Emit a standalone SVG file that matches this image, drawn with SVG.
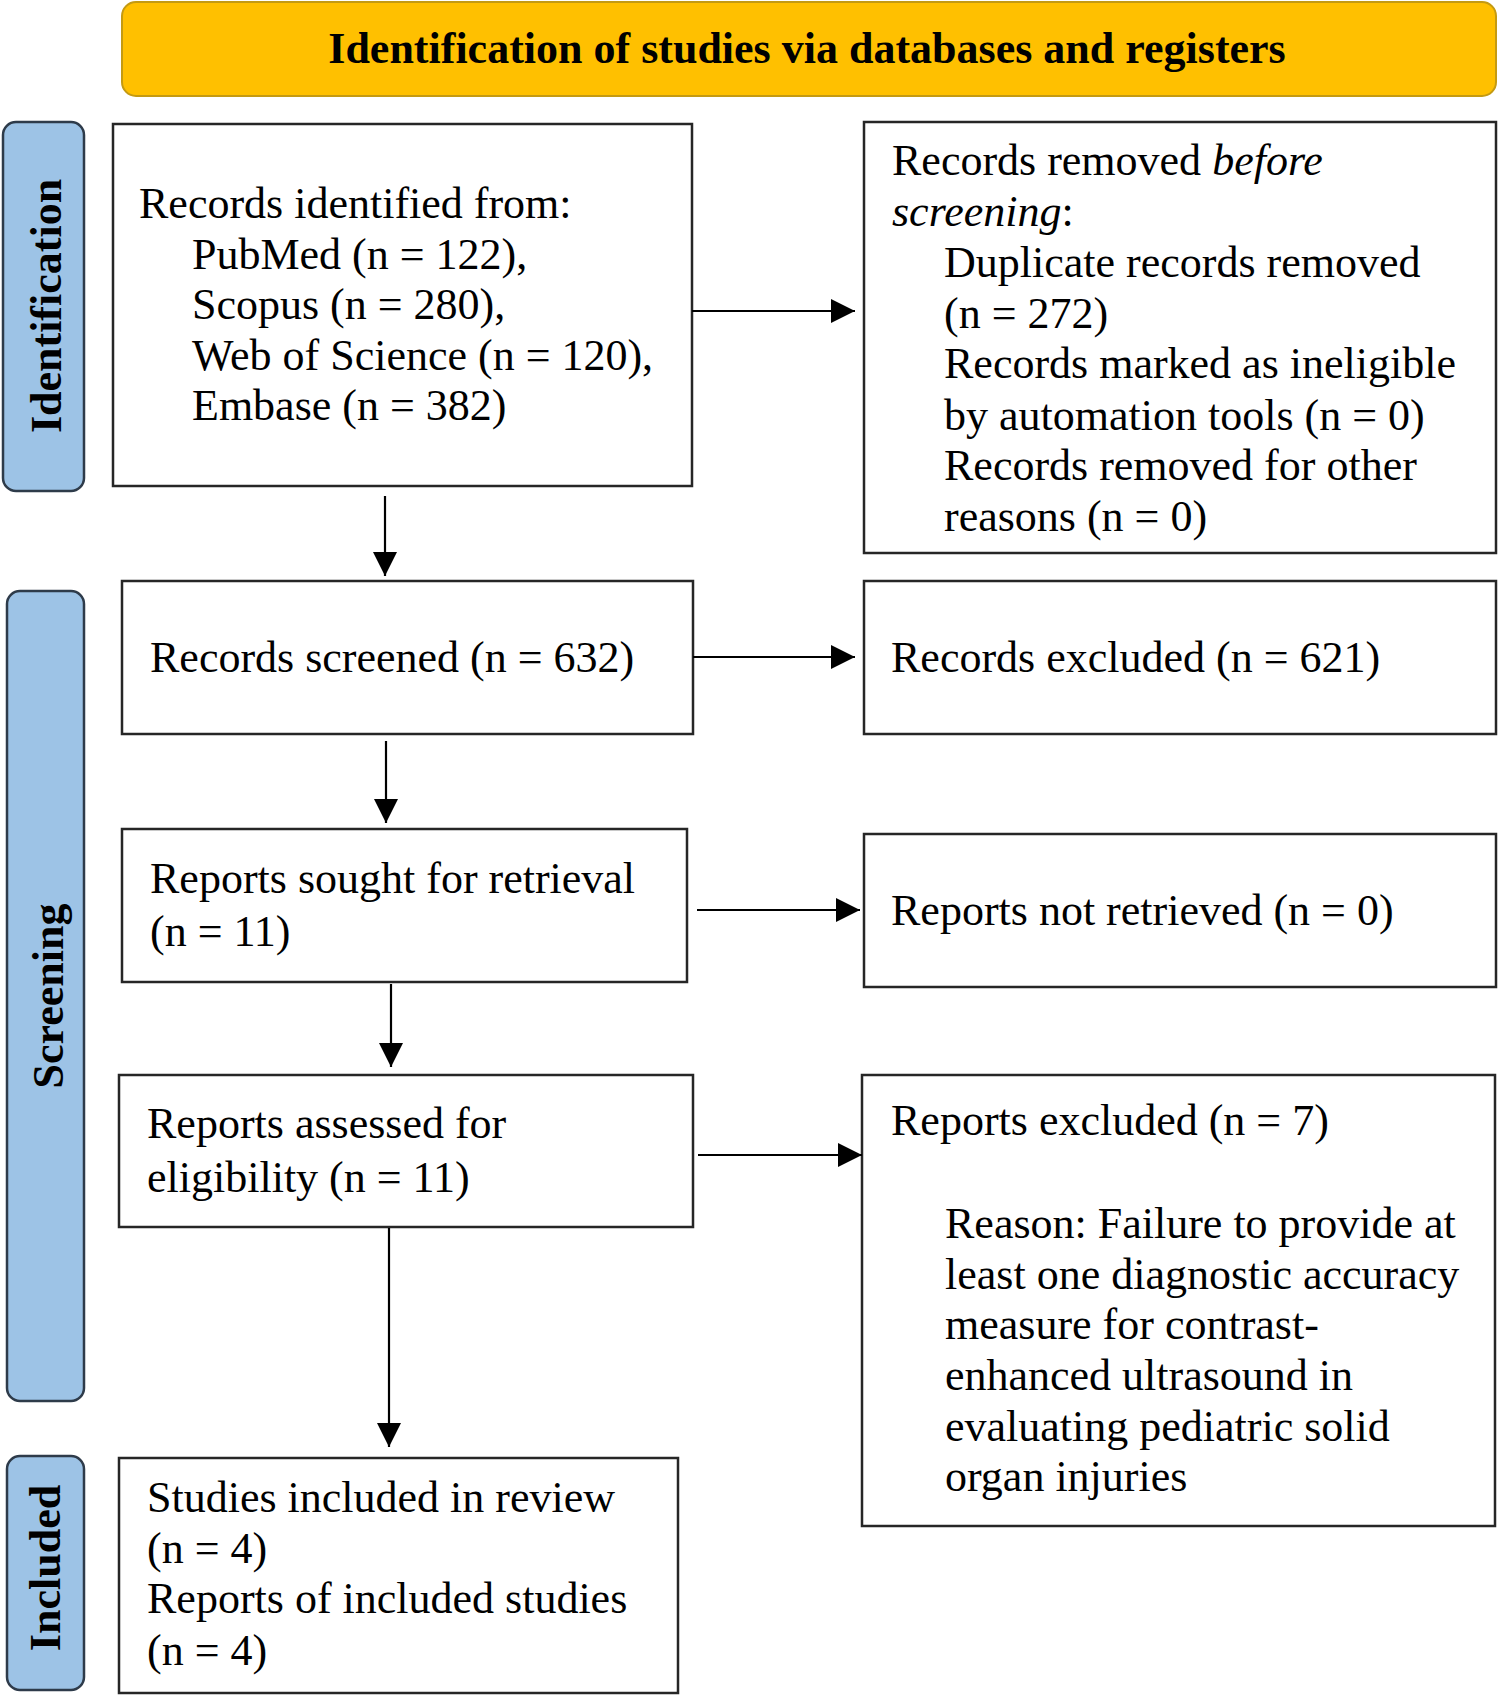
<svg xmlns="http://www.w3.org/2000/svg" width="1499" height="1698" viewBox="0 0 1499 1698">
<style>
text{font-family:"Liberation Serif","Times New Roman",serif;font-size:44px;fill:#000}
.b{font-weight:bold}
.box{fill:#fff;stroke:#262626;stroke-width:2.5}
.lab{fill:#9DC3E6;stroke:#2E3B4A;stroke-width:2.5}
.conn{stroke:#000;stroke-width:2.2;fill:none;marker-end:url(#ah)}
</style>
<defs>
<marker id="ah" markerUnits="userSpaceOnUse" markerWidth="24" markerHeight="24" viewBox="0 0 22 22" refX="22" refY="11" orient="auto">
<path d="M0,0 L22,11 L0,22 Z" fill="#000"/>
</marker>
</defs>
<rect width="1499" height="1698" fill="#fff"/>

<g id="title">
<rect x="122" y="2" width="1374" height="94" rx="14" fill="#FFC000" stroke="#C49A12" stroke-width="2"/>
<text class="b" x="807" y="63" text-anchor="middle">Identification of studies via databases and registers</text>
</g>

<g id="phase-identification">
<rect class="lab" x="3" y="122" width="81" height="369" rx="13"/>
<text class="b" transform="translate(61,306) rotate(-90)" text-anchor="middle">Identification</text>
</g>
<g id="phase-screening">
<rect class="lab" x="7" y="591" width="77" height="810" rx="13"/>
<text class="b" transform="translate(63,996) rotate(-90)" text-anchor="middle">Screening</text>
</g>
<g id="phase-included">
<rect class="lab" x="7" y="1456" width="77" height="234" rx="13"/>
<text class="b" transform="translate(60,1568) rotate(-90)" text-anchor="middle">Included</text>
</g>

<g id="records-identified">
<rect class="box" x="113" y="124" width="579" height="362"/>
<text x="139" y="218">Records identified from:</text>
<text x="192" y="269">PubMed (n = 122),</text>
<text x="192" y="319">Scopus (n = 280),</text>
<text x="192" y="370">Web of Science (n = 120),</text>
<text x="192" y="420">Embase (n = 382)</text>
</g>

<g id="records-removed">
<rect class="box" x="864" y="122" width="632" height="431"/>
<text x="892" y="175">Records removed <tspan font-style="italic">before</tspan></text>
<text x="892" y="226"><tspan font-style="italic">screening</tspan>:</text>
<text x="944" y="277">Duplicate records removed</text>
<text x="944" y="328">(n = 272)</text>
<text x="944" y="378">Records marked as ineligible</text>
<text x="944" y="430">by automation tools (n = 0)</text>
<text x="944" y="480">Records removed for other</text>
<text x="944" y="531">reasons (n = 0)</text>
</g>

<g id="records-screened">
<rect class="box" x="122" y="581" width="571" height="153"/>
<text x="150" y="672">Records screened (n = 632)</text>
</g>

<g id="records-excluded">
<rect class="box" x="864" y="581" width="632" height="153"/>
<text x="891" y="672">Records excluded (n = 621)</text>
</g>

<g id="reports-sought">
<rect class="box" x="122" y="829" width="565" height="153"/>
<text x="150" y="893">Reports sought for retrieval</text>
<text x="150" y="946">(n = 11)</text>
</g>

<g id="reports-not-retrieved">
<rect class="box" x="864" y="834" width="632" height="153"/>
<text x="891" y="925">Reports not retrieved (n = 0)</text>
</g>

<g id="reports-assessed">
<rect class="box" x="119" y="1075" width="574" height="152"/>
<text x="147" y="1138">Reports assessed for</text>
<text x="147" y="1192">eligibility (n = 11)</text>
</g>

<g id="reports-excluded">
<rect class="box" x="862" y="1075" width="633" height="451"/>
<text x="891" y="1135">Reports excluded (n = 7)</text>
<text x="945" y="1238">Reason: Failure to provide at</text>
<text x="945" y="1289">least one diagnostic accuracy</text>
<text x="945" y="1339">measure for contrast-</text>
<text x="945" y="1390">enhanced ultrasound in</text>
<text x="945" y="1441">evaluating pediatric solid</text>
<text x="945" y="1491">organ injuries</text>
</g>

<g id="studies-included">
<rect class="box" x="119" y="1458" width="559" height="235"/>
<text x="147" y="1512">Studies included in review</text>
<text x="147" y="1563">(n = 4)</text>
<text x="147" y="1613">Reports of included studies</text>
<text x="147" y="1665">(n = 4)</text>
</g>

<g id="connectors">
<line class="conn" x1="692" y1="311" x2="855" y2="311"/>
<line class="conn" x1="385" y1="496" x2="385" y2="576"/>
<line class="conn" x1="693" y1="657" x2="855" y2="657"/>
<line class="conn" x1="386" y1="741" x2="386" y2="823"/>
<line class="conn" x1="697" y1="910" x2="860" y2="910"/>
<line class="conn" x1="391" y1="984" x2="391" y2="1067"/>
<line class="conn" x1="698" y1="1155" x2="862" y2="1155"/>
<line class="conn" x1="389" y1="1228" x2="389" y2="1447"/>
</g>
</svg>
